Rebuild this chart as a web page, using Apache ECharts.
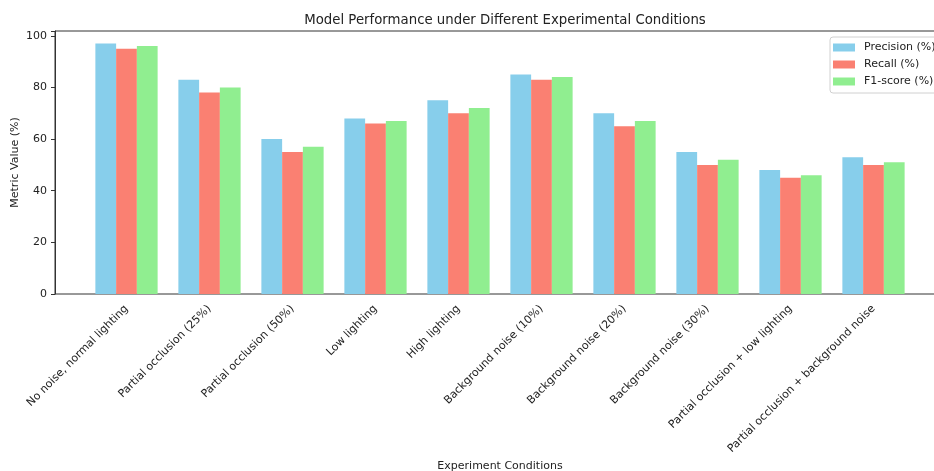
<!DOCTYPE html>
<html>
<head>
<meta charset="utf-8">
<script src="https://cdn.jsdelivr.net/npm/echarts@6/dist/echarts.min.js"></script>
<style>
  html, body { margin: 0; padding: 0; background: #fff; }
  #chart { width: 934px; height: 471px; }
</style>
</head>
<body>
<div id="chart"></div>
<script>
// 实验条件
const conditions = [
    'No noise, normal lighting',
    'Partial occlusion (25%)',
    'Partial occlusion (50%)',
    'Low lighting',
    'High lighting',
    'Background noise (10%)',
    'Background noise (20%)',
    'Background noise (30%)',
    'Partial occlusion + low lighting',
    'Partial occlusion + background noise'
]
const precision = [97, 83, 60, 68, 75, 85, 70, 55, 48, 53]
const recall = [95, 78, 55, 66, 70, 83, 65, 50, 45, 50]
const f1 = [96, 80, 57, 67, 72, 84, 67, 52, 46, 51]
const yTicks = [0, 20, 40, 60, 80, 100]

const font = 'DejaVu Sans'
const txt = '#222'
const yMax = 101.85

const chart = echarts.init(document.getElementById('chart'))

const barSeries = (name, data, color) => ({
    name: name,
    type: 'bar',
    xAxisIndex: 1,
    yAxisIndex: 1,
    data: data,
    barGap: '0%',
    barCategoryGap: '25%',
    itemStyle: { color: color },
    emphasis: { disabled: true }
})

chart.setOption({
    animation: false,
    textStyle: { fontFamily: font, color: txt },
    title: {
        text: 'Model Performance under Different Experimental Conditions',
        left: 500,
        top: 9,
        textAlign: 'center',
        textStyle: { fontFamily: font, fontSize: 13.3, fontWeight: 'normal', color: txt }
    },
    legend: {
        orient: 'vertical',
        left: 830,
        top: 37,
        padding: [5, 10, 6, 3],
        itemGap: 6,
        itemWidth: 22,
        itemHeight: 8,
        borderColor: '#d0d0d0',
        borderWidth: 1,
        borderRadius: 3,
        backgroundColor: 'rgba(255,255,255,0.8)',
        icon: 'rect',
        textStyle: { fontFamily: font, fontSize: 11, color: txt, padding: [0, 0, 0, 4] },
        data: ['Precision (%)', 'Recall (%)', 'F1-score (%)']
    },
    grid: [
        // 外框
        { left: 55, top: 31, width: 891, height: 263, show: true, borderColor: '#333', borderWidth: 1, backgroundColor: 'transparent', outerBoundsMode: 'none', containLabel: false },
        // 柱子区域
        { left: 85, top: 31, width: 830, height: 263, outerBoundsMode: 'none', containLabel: false }
    ],
    xAxis: [
        { type: 'value', gridIndex: 0, show: false, min: 0, max: 1 },
        {
            type: 'category',
            gridIndex: 1,
            data: conditions,
            axisLine: { show: false },
            axisTick: { alignWithLabel: true, length: 4, lineStyle: { color: '#333' } },
            axisLabel: { rotate: 45, interval: 0, margin: 13, fontSize: 11, color: txt, fontFamily: font },
            name: 'Experiment Conditions',
            nameLocation: 'middle',
            nameGap: 167,
            nameMoveOverlap: false,
            nameTextStyle: { fontSize: 11, color: txt, fontFamily: font }
        }
    ],
    yAxis: [
        {
            type: 'value',
            gridIndex: 0,
            min: 0,
            max: yMax,
            interval: 20,
            axisLine: { show: true, lineStyle: { color: '#333' } },
            axisTick: { show: true, length: 4, lineStyle: { color: '#333' } },
            splitLine: { show: false },
            axisLabel: {
                fontSize: 11, color: txt, fontFamily: font, margin: 8,
                formatter: v => yTicks.includes(v) ? String(v) : ''
            },
            name: 'Metric Value (%)',
            nameLocation: 'middle',
            nameGap: 34,
            nameMoveOverlap: false,
            nameTextStyle: { fontSize: 11, color: txt, fontFamily: font }
        },
        { type: 'value', gridIndex: 1, min: 0, max: yMax, show: false, splitLine: { show: false } }
    ],
    series: [
        barSeries('Precision (%)', precision, '#87CEEB'),
        barSeries('Recall (%)', recall, '#FA8072'),
        barSeries('F1-score (%)', f1, '#90EE90')
    ]
})
</script>
</body>
</html>
